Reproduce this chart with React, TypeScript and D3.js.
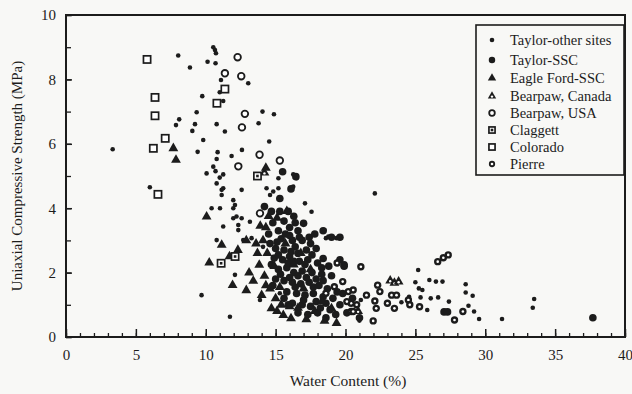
import React, { useEffect, useRef } from "react";
import * as d3 from "d3";

const width = 632;
const height = 394;
const font = "'Liberation Serif', 'Times New Roman', serif";
const ink = "#1c1c1c";

// [water content %, UCS MPa]
const taylorOther: number[][] = [
  [3.34, 5.83], [6.0, 4.65], [8.03, 8.74], [8.87, 8.37], [10.13, 8.55], [10.7, 8.5],
  [10.54, 9.0], [10.66, 8.91], [10.73, 8.81], [9.75, 7.48], [9.35, 6.98], [8.1, 6.76],
  [7.87, 6.58], [9.23, 6.61], [9.04, 6.4], [10.78, 6.61], [9.82, 6.12], [9.42, 5.75],
  [10.85, 5.74], [10.78, 5.53], [10.54, 5.29], [10.06, 5.08], [11.09, 7.98], [11.0, 7.6],
  [11.25, 7.33], [13.04, 7.88], [14.06, 7.0], [14.88, 6.92], [13.78, 6.64], [11.37, 6.38],
  [14.54, 6.07], [12.59, 5.81], [11.85, 5.62], [10.7, 5.15], [11.0, 4.95], [11.25, 5.05],
  [16.26, 5.05], [16.5, 4.93], [15.2, 4.93], [10.78, 4.77], [11.25, 4.62], [11.14, 4.41],
  [12.57, 4.57], [11.97, 4.25], [12.09, 4.1], [11.02, 4.0], [10.42, 4.0], [11.25, 3.43],
  [10.78, 3.01], [11.97, 3.69], [12.33, 3.48], [13.28, 3.07], [12.09, 1.93], [9.7, 1.3],
  [11.73, 0.63], [14.35, 4.62], [14.6, 4.41], [14.83, 4.52], [16.26, 4.67], [17.1, 4.15],
  [22.1, 4.46], [18.5, 3.32], [18.6, 3.07], [19.36, 3.07], [11.14, 4.57], [11.97, 4.0],
  [12.2, 3.74], [12.57, 3.69], [13.16, 3.58], [12.33, 3.32], [12.68, 3.01], [14.1, 2.8],
  [13.88, 1.15], [15.3, 1.36], [15.2, 4.62], [16.14, 4.62], [17.57, 3.89], [18.77, 3.12],
  [25.2, 2.08], [25.0, 1.7], [25.25, 1.51], [25.5, 1.46], [26.0, 1.77], [26.47, 1.72],
  [26.94, 1.72], [25.37, 1.23], [26.1, 1.2], [26.63, 1.23], [25.85, 0.84], [27.4, 1.1],
  [28.6, 1.64], [28.6, 1.38], [29.1, 1.28], [28.8, 0.97], [29.2, 0.79], [29.56, 0.56],
  [21.1, 1.15], [21.0, 0.51], [24.55, 1.25], [24.0, 1.08], [31.2, 0.56], [33.5, 1.18],
  [33.4, 0.91],
];

const taylorSSC: number[][] = [
  [15.3, 4.3], [15.5, 5.13], [16.45, 4.98], [16.1, 4.6], [15.9, 3.9], [16.3, 3.75],
  [17.0, 3.53], [15.6, 3.6], [16.0, 3.4], [16.6, 3.3], [15.2, 3.3], [14.8, 3.55],
  [15.4, 3.05], [16.2, 3.0], [16.9, 3.0], [17.4, 3.1], [17.8, 3.2], [18.4, 3.3],
  [14.6, 2.9], [15.0, 2.75], [15.6, 2.7], [16.4, 2.8], [17.2, 2.7], [17.9, 2.75],
  [18.4, 2.44], [14.9, 2.45], [15.5, 2.4], [16.0, 2.5], [16.7, 2.35], [17.3, 2.4],
  [18.0, 2.3], [18.8, 2.2], [15.2, 2.1], [15.8, 2.15], [16.3, 2.0], [16.9, 2.05],
  [17.6, 2.0], [18.3, 1.95], [19.0, 1.9], [15.0, 1.8], [15.6, 1.75], [16.2, 1.7],
  [16.8, 1.65], [17.4, 1.7], [18.1, 1.6], [18.7, 1.5], [15.8, 1.4], [16.5, 1.35],
  [17.1, 1.3], [17.7, 1.35], [18.4, 1.25], [19.1, 1.2], [16.2, 1.05], [16.9, 1.0],
  [17.5, 0.95], [18.2, 0.9], [18.9, 0.85], [19.6, 1.0], [17.3, 0.7], [18.6, 0.6],
  [20.1, 0.75], [21.0, 0.6], [20.5, 1.2], [19.8, 1.35], [27.05, 0.78], [27.3, 0.78],
  [37.7, 0.6], [14.2, 4.05], [14.7, 3.9], [19.0, 3.1], [19.6, 3.1], [19.6, 2.4],
  [19.9, 2.2], [19.9, 2.24], [15.3, 3.9], [15.7, 3.2], [16.4, 3.55], [15.1, 2.95],
  [16.6, 2.6], [17.6, 2.55], [14.7, 2.25], [15.35, 1.95], [16.0, 1.85], [16.6, 1.9],
  [17.2, 1.85], [17.9, 1.8], [15.6, 1.2], [16.4, 1.55], [17.0, 1.15], [17.9, 1.1],
  [18.6, 1.05], [17.7, 1.55], [18.4, 1.75], [16.1, 2.65], [16.7, 3.1], [17.1, 2.25],
  [18.3, 2.15], [15.9, 1.0], [16.6, 0.75], [18.0, 0.75], [19.3, 0.7], [19.4, 1.4],
  [15.2, 2.55], [15.9, 2.3], [17.5, 2.9], [16.0, 3.15], [14.5, 3.2], [14.8, 1.6],
  [16.3, 2.35],
];

const eagleFord: number[][] = [
  [7.68, 5.86], [7.87, 5.5], [10.06, 3.74], [10.25, 2.31], [11.14, 2.86], [11.92, 1.61],
  [13.4, 1.74], [14.7, 0.89], [15.55, 0.68], [16.1, 0.58], [19.36, 0.43], [15.8, 3.91],
  [14.1, 3.0], [13.83, 2.24], [19.0, 0.89], [14.4, 2.6], [14.2, 1.9], [14.6, 1.5],
  [15.0, 1.2], [14.3, 3.4], [15.1, 3.7], [15.4, 1.0], [16.6, 0.9], [17.0, 1.5],
  [17.8, 0.8], [16.3, 2.25], [15.7, 2.9], [14.9, 2.2], [13.6, 2.9], [12.9, 3.0],
  [12.3, 2.7], [13.1, 2.0], [14.0, 1.3], [18.3, 1.1], [16.8, 2.6], [15.3, 1.55],
  [14.5, 3.75], [13.9, 3.45], [12.9, 1.45], [11.7, 2.5], [17.5, 2.1], [14.3, 5.25],
  [15.1, 0.8], [16.0, 0.95], [17.2, 0.55], [18.5, 0.5], [14.3, 1.6], [13.7, 2.6],
];

const bearpawCanada: number[][] = [
  [23.2, 1.75], [23.5, 1.68], [23.8, 1.72], [20.9, 0.8], [14.2, 5.1],
];

const bearpawUSA: number[][] = [
  [12.28, 8.69], [11.37, 8.19], [12.54, 8.1], [12.8, 6.93], [12.59, 6.51],
  [13.85, 5.66], [12.33, 5.3], [15.3, 5.48], [13.88, 3.84],
];

const claggett: number[][] = [
  [11.1, 2.29], [12.1, 2.5], [13.7, 5.0],
];

const colorado: number[][] = [
  [5.8, 8.62], [6.37, 7.44], [6.37, 6.87], [7.1, 6.17], [6.25, 5.86], [6.58, 4.43],
  [11.37, 7.7], [10.8, 7.26],
];

const pierre: number[][] = [
  [19.8, 1.72], [20.2, 1.41], [20.4, 1.05], [19.2, 1.56], [18.6, 1.36], [20.8, 1.0],
  [20.4, 0.79], [21.1, 2.18], [20.55, 1.46], [22.3, 1.61], [22.46, 1.41], [22.1, 1.12],
  [22.2, 0.89], [21.98, 0.5], [23.5, 0.89], [23.3, 1.3], [23.65, 1.3], [24.5, 1.15],
  [25.3, 0.94], [27.8, 0.53], [28.4, 0.79], [20.55, 0.79], [20.1, 1.1], [26.6, 2.34],
  [27.0, 2.46], [27.35, 2.55], [19.4, 2.3], [21.5, 1.3], [23.0, 1.05], [24.6, 1.0],
];

const legendNames = [
  "Taylor-other sites",
  "Taylor-SSC",
  "Eagle Ford-SSC",
  "Bearpaw, Canada",
  "Bearpaw, USA",
  "Claggett",
  "Colorado",
  "Pierre",
];

const xTicks = [0, 5, 10, 15, 20, 25, 30, 35, 40];
const yTicks = [0, 2, 4, 6, 8, 10];

// draws one marker of the given kind centred at (cx, cy)
function drawMarker(g: any, kind: number, cx: number, cy: number, s = 1) {
  const tri = d3.symbol().type(d3.symbolTriangle).size(42 * s * s);
  switch (kind) {
    case 0:
      g.append("circle").attr("cx", cx).attr("cy", cy).attr("r", 2.3).attr("fill", ink);
      break;
    case 1:
      g.append("circle").attr("cx", cx).attr("cy", cy).attr("r", 3.8 * s).attr("fill", ink);
      break;
    case 2:
      g.append("path").attr("d", tri()).attr("transform", `translate(${cx},${cy})`).attr("fill", ink);
      break;
    case 3:
      g.append("path").attr("d", tri()).attr("transform", `translate(${cx},${cy})`).attr("fill", ink);
      g.append("circle").attr("cx", cx).attr("cy", cy + 0.6).attr("r", 1.2).attr("fill", "#fff");
      break;
    case 4:
      g.append("circle").attr("cx", cx).attr("cy", cy).attr("r", 3.3 * s)
        .attr("fill", "#fff").attr("stroke", ink).attr("stroke-width", 1.8);
      break;
    case 5:
      g.append("rect").attr("x", cx - 3.6 * s).attr("y", cy - 3.6 * s).attr("width", 7.2 * s).attr("height", 7.2 * s)
        .attr("fill", "#fff").attr("stroke", ink).attr("stroke-width", 1.7);
      g.append("rect").attr("x", cx - 1.3).attr("y", cy - 1.3).attr("width", 2.6).attr("height", 2.6)
        .attr("fill", ink);
      break;
    case 6:
      g.append("rect").attr("x", cx - 3.6 * s).attr("y", cy - 3.6 * s).attr("width", 7.2 * s).attr("height", 7.2 * s)
        .attr("fill", "#fff").attr("stroke", ink).attr("stroke-width", 1.7);
      break;
    default:
      g.append("circle").attr("cx", cx).attr("cy", cy).attr("r", 3.7 * s).attr("fill", ink);
      g.append("circle").attr("cx", cx).attr("cy", cy).attr("r", 1.3).attr("fill", "#fff");
  }
}

export default function App() {
  const svgRef = useRef<SVGSVGElement>(null);

  useEffect(() => {
    const svg = d3.select(svgRef.current);
    svg.selectAll("*").remove();

    const x = d3.scaleLinear().domain([0, 40]).range([66, 625]);
    const y = d3.scaleLinear().domain([0, 10]).range([337, 15]);

    svg.append("rect").attr("width", width).attr("height", height).attr("fill", "#f8f8f6");

    // minor ticks every 1 unit
    const xMinor = d3.axisBottom(x).tickValues(d3.range(0, 41)).tickSizeInner(-4).tickSizeOuter(0).tickFormat(() => "");
    svg.append("g").attr("transform", "translate(0,337)").call(xMinor)
      .call((g: any) => g.select(".domain").remove())
      .selectAll("line").attr("stroke", ink).attr("stroke-width", 1.3);

    const xAxis = d3.axisBottom(x).tickValues(xTicks).tickSizeInner(-8).tickSizeOuter(0).tickPadding(12).tickFormat((d) => String(d));
    const gx = svg.append("g").attr("transform", "translate(0,337)").call(xAxis);
    gx.select(".domain").remove();
    gx.selectAll("line").attr("stroke", ink).attr("stroke-width", 1.5);
    gx.selectAll("text").style("font-family", font).style("font-size", "15px").attr("fill", ink);

    const yMinor = d3.axisLeft(y).tickValues(d3.range(0, 11)).tickSizeInner(-5).tickSizeOuter(0).tickFormat(() => "");
    svg.append("g").attr("transform", "translate(66,0)").call(yMinor)
      .call((g: any) => g.select(".domain").remove())
      .selectAll("line").attr("stroke", ink).attr("stroke-width", 1.3);

    const yAxis = d3.axisLeft(y).tickValues(yTicks).tickSizeInner(-6).tickSizeOuter(0).tickPadding(10).tickFormat((d) => String(d));
    const gy = svg.append("g").attr("transform", "translate(66,0)").call(yAxis);
    gy.select(".domain").remove();
    gy.selectAll("line").attr("stroke", ink).attr("stroke-width", 1.5);
    gy.selectAll("text").style("font-family", font).style("font-size", "15px").attr("fill", ink);

    // frame
    svg.append("rect").attr("x", 66).attr("y", 15).attr("width", 559).attr("height", 322)
      .attr("fill", "none").attr("stroke", ink).attr("stroke-width", 2);

    // points
    const series = [taylorOther, taylorSSC, eagleFord, bearpawCanada, bearpawUSA, claggett, colorado, pierre];
    const pts = svg.append("g");
    series.forEach((s, k) => {
      s.forEach((d) => drawMarker(pts, k, x(d[0]), y(d[1])));
    });

    // legend
    const legend = svg.append("g");
    legend.append("rect").attr("x", 476).attr("y", 25).attr("width", 148).attr("height", 150)
      .attr("fill", "#f8f8f6").attr("stroke", ink).attr("stroke-width", 1.6);
    const legendY = [40, 60, 78, 96, 113, 130, 147, 164];
    legendNames.forEach((name, i) => {
      drawMarker(legend, i, 492, legendY[i], 0.85);
      legend.append("text").attr("x", 510).attr("y", legendY[i]).attr("dy", "0.35em")
        .text(name).style("font-family", font).style("font-size", "14.5px").attr("fill", ink);
    });

    // axis titles
    svg.append("text").attr("x", 348).attr("y", 386).attr("text-anchor", "middle")
      .text("Water Content  (%)").style("font-family", font).style("font-size", "15.5px").attr("fill", ink);
    svg.append("text").attr("transform", "translate(22,176) rotate(-90)").attr("text-anchor", "middle")
      .text("Uniaxial Compressive Strength  (MPa)").style("font-family", font).style("font-size", "15px").attr("fill", ink);
  }, []);

  return (
    <svg ref={svgRef} width={width} height={height} style={{ position: "absolute", left: 0, top: 0 }}></svg>
  );
}
